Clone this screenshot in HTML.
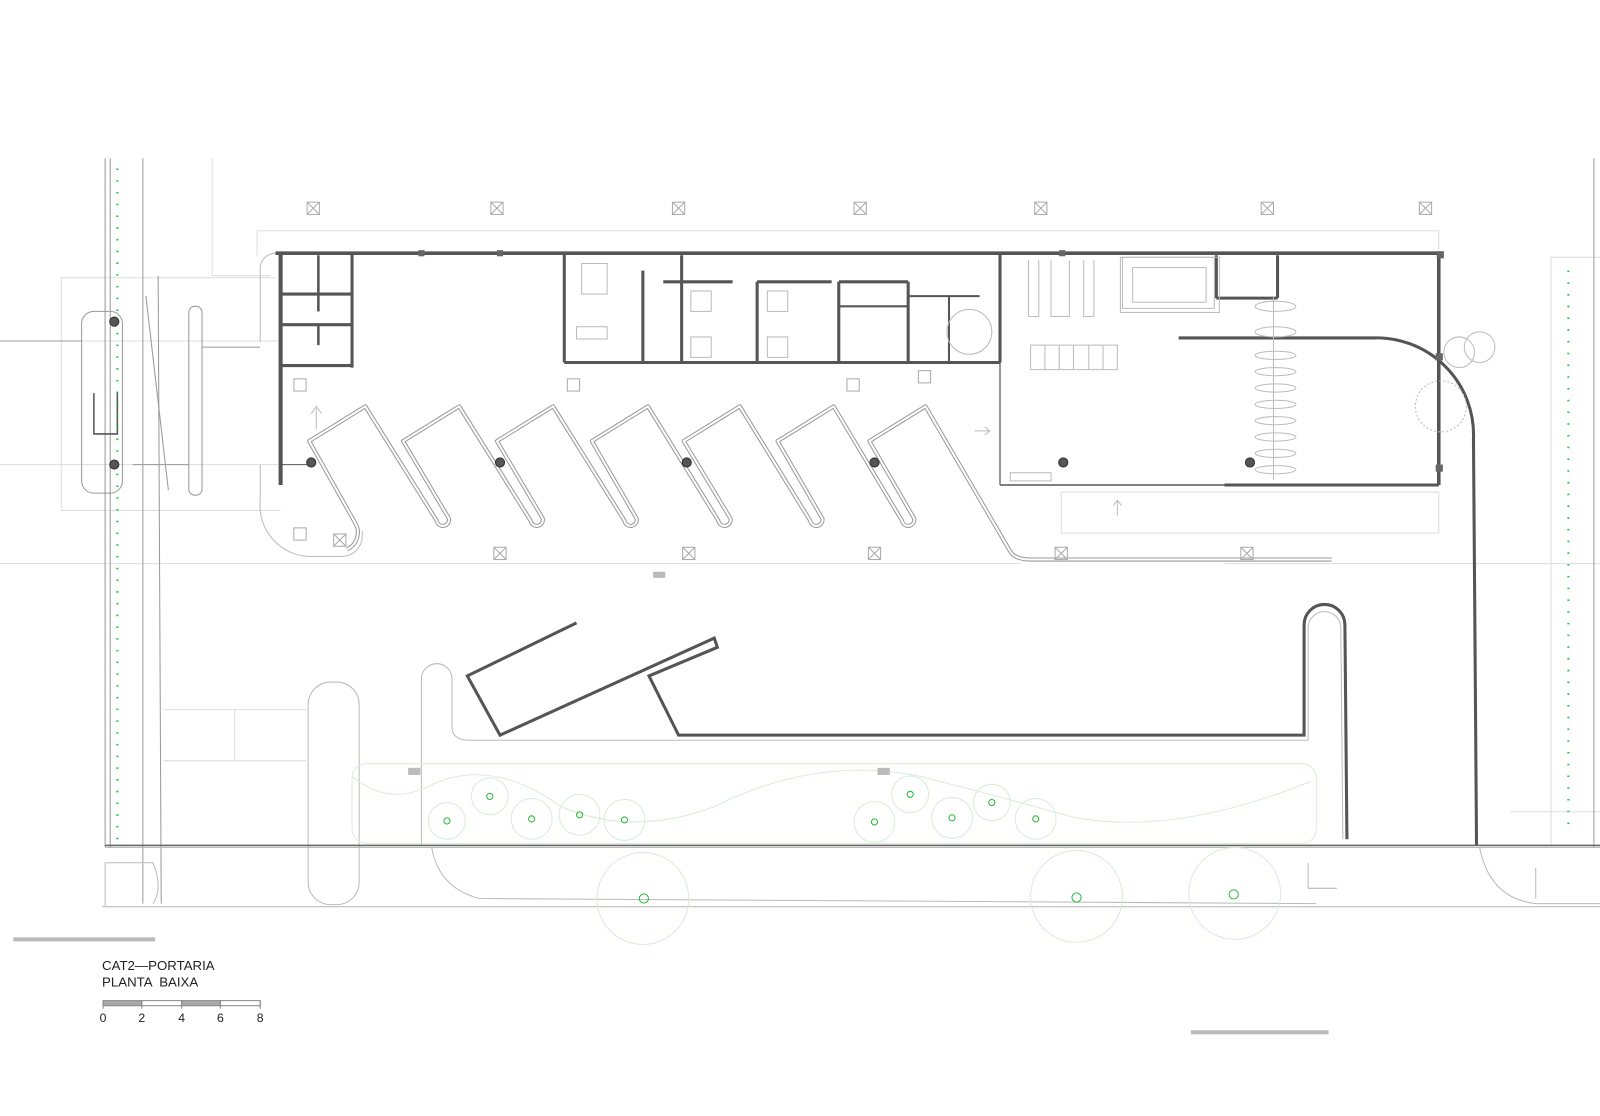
<!DOCTYPE html>
<html><head><meta charset="utf-8"><style>
html,body{margin:0;padding:0;background:#fff;}
svg{display:block;}
text{font-family:"Liberation Sans",sans-serif;fill:#222;}
</style></head><body>
<svg width="1600" height="1116" viewBox="0 0 1568 1093" preserveAspectRatio="none" xmlns="http://www.w3.org/2000/svg">
<defs>
<g id="m"><rect x="-6" y="-6" width="12" height="12"/><path d="M-6 -6 L6 6 M6 -6 L-6 6"/></g>
<path id="saw" d="M340 538 A18 18 0 0 0 348 512 L303 432 L358 398 L428 510 A6 6 0 0 0 440 508 L395 432 L450 398 L520 510 A6 6 0 0 0 532 508 L487 432 L542 398 L612 510 A6 6 0 0 0 624 508 L580 432 L635 398 L704 510 A6 6 0 0 0 716 508 L670 432 L725 398 L794 510 A6 6 0 0 0 806 508 L762 432 L817 398 L884 510 A6 6 0 0 0 896 508 L852 432 L907 398 L990 540 Q995 548 1010 548 L1305 548"/>
</defs>
<rect width="1568" height="1093" fill="#fff"/>
<g stroke="#ddd" stroke-width="1" fill="none">
<line x1="0" y1="334" x2="275" y2="334"/><line x1="0" y1="455" x2="275" y2="455"/>
<line x1="60" y1="272" x2="270" y2="272"/><line x1="60" y1="272" x2="60" y2="500"/>
<line x1="60" y1="500" x2="275" y2="500"/>
<line x1="208" y1="155" x2="208" y2="270"/><line x1="208" y1="270" x2="265" y2="270"/>
<line x1="252" y1="226" x2="1410" y2="226"/><line x1="252" y1="226" x2="252" y2="250"/>
<line x1="0" y1="552" x2="1000" y2="552"/><line x1="1200" y1="552" x2="1568" y2="552"/>
<line x1="1040" y1="482" x2="1410" y2="482"/><line x1="1040" y1="482" x2="1040" y2="522"/><line x1="1040" y1="522" x2="1410" y2="522"/><line x1="1410" y1="482" x2="1410" y2="522"/>
<line x1="1520" y1="252" x2="1568" y2="252"/><line x1="1520" y1="252" x2="1520" y2="828"/>
<line x1="1410" y1="226" x2="1410" y2="245"/>
<line x1="160" y1="695" x2="300" y2="695"/><line x1="160" y1="745" x2="300" y2="745"/>
<line x1="230" y1="695" x2="230" y2="745"/>
<line x1="1480" y1="795" x2="1568" y2="795"/>
</g>
<g stroke="#999" stroke-width="1" fill="none">
<line x1="103" y1="155" x2="103" y2="830"/><line x1="108" y1="155" x2="108" y2="830"/>
<line x1="140" y1="155" x2="140" y2="885"/><line x1="155" y1="270" x2="158" y2="885"/>
<line x1="143" y1="290" x2="165" y2="480"/>
<line x1="1562" y1="155" x2="1562" y2="830"/>
<rect x="80" y="305" width="40" height="178" rx="12"/>
<rect x="185" y="300" width="13" height="185" rx="6"/>
<line x1="0" y1="334" x2="80" y2="334"/>
<line x1="198" y1="340" x2="255" y2="340"/>
<line x1="130" y1="455" x2="185" y2="455"/>
<path d="M92 385 L92 425 L115 425 L115 385" stroke="#555" stroke-width="1.5"/>
</g>
<g stroke="#1c3" stroke-width="2" stroke-dasharray="1.5 10">
<line x1="115" y1="165" x2="115" y2="828"/>
<line x1="1537" y1="265" x2="1537" y2="815"/>
</g>
<g stroke="#555" fill="none">
<line x1="270" y1="248" x2="1413" y2="248" stroke-width="3.5"/>
<line x1="275" y1="248" x2="275" y2="475" stroke-width="4"/>
<line x1="345" y1="248" x2="345" y2="360" stroke-width="3"/>
<line x1="275" y1="288" x2="345" y2="288" stroke-width="3"/>
<line x1="275" y1="318" x2="345" y2="318" stroke-width="3"/>
<line x1="275" y1="358" x2="345" y2="358" stroke-width="3"/>
<line x1="312" y1="250" x2="312" y2="305" stroke-width="2.5"/>
<line x1="312" y1="318" x2="312" y2="338" stroke-width="2.5"/>
<line x1="275" y1="455" x2="305" y2="455" stroke-width="1"/>
<line x1="553" y1="248" x2="553" y2="355" stroke-width="3"/>
<line x1="553" y1="355" x2="980" y2="355" stroke-width="3"/>
<line x1="630" y1="265" x2="630" y2="355" stroke-width="3"/>
<line x1="668" y1="250" x2="668" y2="355" stroke-width="3"/>
<line x1="650" y1="276" x2="718" y2="276" stroke-width="3"/>
<line x1="742" y1="276" x2="815" y2="276" stroke-width="3"/>
<line x1="742" y1="276" x2="742" y2="355" stroke-width="3"/>
<line x1="822" y1="276" x2="822" y2="355" stroke-width="3"/>
<line x1="822" y1="276" x2="890" y2="276" stroke-width="3"/>
<line x1="890" y1="276" x2="890" y2="355" stroke-width="3"/>
<line x1="822" y1="300" x2="890" y2="300" stroke-width="2"/>
<line x1="890" y1="290" x2="960" y2="290" stroke-width="2"/>
<line x1="930" y1="290" x2="930" y2="355" stroke-width="2"/>
<line x1="980" y1="248" x2="980" y2="355" stroke-width="3"/>
<line x1="980" y1="355" x2="980" y2="475" stroke-width="1.2"/>
<line x1="980" y1="475" x2="1200" y2="475" stroke-width="1.5"/>
<line x1="1200" y1="475" x2="1410" y2="475" stroke-width="3"/>
<line x1="1410" y1="248" x2="1410" y2="475" stroke-width="3.5"/>
<line x1="1192" y1="250" x2="1192" y2="292" stroke-width="3"/>
<line x1="1192" y1="292" x2="1252" y2="292" stroke-width="3"/>
<line x1="1252" y1="250" x2="1252" y2="292" stroke-width="3"/>
<path d="M1155 331 L1345 331 A95 95 0 0 1 1444 430 L1447 828" stroke-width="3"/>
<path d="M565 610 L458 662 L490 720 L700 625 L703 634 L636 662 L665 720 L1278 720 L1278 612 A20 20 0 0 1 1318 612 L1320 822" stroke-width="3"/>
</g>
<g stroke="#bbb" fill="none" stroke-width="1">
<rect x="1100" y="252" width="90" height="50"/><rect x="1110" y="262" width="72" height="34"/>
<rect x="1098" y="252" width="97" height="54"/>
<path d="M1010 338 H1095 V362 H1010 Z M1024 338 V362 M1038 338 V362 M1052 338 V362 M1067 338 V362 M1081 338 V362"/>
<path d="M1030 255 V310 H1048 V255 M1008 255 V310 H1018 V255 M1062 255 V310 H1072 V255"/>
<line x1="1248" y1="290" x2="1248" y2="470"/>
<ellipse cx="1250" cy="300" rx="20" ry="5"/><ellipse cx="1250" cy="325" rx="20" ry="5"/>
<ellipse cx="1250" cy="348" rx="20" ry="4"/><ellipse cx="1250" cy="364" rx="20" ry="4"/>
<ellipse cx="1250" cy="380" rx="20" ry="4"/><ellipse cx="1250" cy="396" rx="20" ry="4"/>
<ellipse cx="1250" cy="412" rx="20" ry="4"/><ellipse cx="1250" cy="428" rx="20" ry="4"/>
<ellipse cx="1250" cy="444" rx="20" ry="4"/><ellipse cx="1250" cy="460" rx="20" ry="4"/>
<circle cx="950" cy="325" r="22"/><circle cx="1412" cy="398" r="25" stroke-dasharray="2 2"/>
<circle cx="1430" cy="345" r="15"/><circle cx="1450" cy="340" r="15"/>
<rect x="570" y="258" width="25" height="30"/><rect x="565" y="320" width="30" height="12"/>
<rect x="677" y="285" width="20" height="20"/><rect x="752" y="285" width="20" height="20"/>
<rect x="677" y="330" width="20" height="20"/><rect x="752" y="330" width="20" height="20"/>
<rect x="990" y="463" width="40" height="8"/>
<path d="M310 400 V420 M305 405 L310 398 L315 405"/>
<path d="M955 422 H970 M965 418 L970 422 L965 426"/>
<path d="M1095 505 V490 M1091 495 L1095 490 L1099 495"/>
<path d="M270 248 A15 15 0 0 0 255 263 L255 335"/>
<path d="M255 455 L255 490 A50 50 0 0 0 305 545 L335 545 A20 20 0 0 0 355 525 L355 520"/>
</g>
<use href="#saw" fill="none" stroke="#999" stroke-width="4" stroke-linejoin="round"/>
<use href="#saw" fill="none" stroke="#fff" stroke-width="2" stroke-linejoin="round"/>
<g fill="none" stroke="#bbb" stroke-width="1">
<path d="M413 828 L413 665 A15 15 0 0 1 443 665 L443 712 Q443 725 460 725 L1282 725 L1282 615 A16 16 0 0 1 1314 615 L1316 822"/>
<rect x="302" y="668" width="50" height="218" rx="22"/>
<path d="M423 830 Q430 870 470 880 L1290 885 M1450 830 Q1460 880 1505 885 L1568 885"/>
<line x1="100" y1="888" x2="1568" y2="888"/>
<path d="M103 845 L150 845 Q160 870 150 885 M103 888 L103 845"/>
<path d="M1505 850 L1505 880 M1282 845 L1282 870 L1310 870"/>
</g>
<line x1="103" y1="828" x2="1568" y2="828" stroke="#666" stroke-width="1.5"/>
<line x1="103" y1="830" x2="1568" y2="830" stroke="#bbb" stroke-width="1"/>
<g fill="none" stroke="#d8ecd8" stroke-width="1">
<rect x="345" y="748" width="945" height="78" rx="14"/>
<path d="M345 760 Q380 790 420 770 Q480 740 550 790 Q620 820 700 790 Q800 740 900 760 Q980 780 1050 800 Q1150 820 1285 765"/>
<circle cx="438" cy="804" r="18"/><circle cx="480" cy="780" r="18"/><circle cx="521" cy="802" r="20"/>
<circle cx="568" cy="798" r="20"/><circle cx="612" cy="803" r="20"/><circle cx="857" cy="805" r="20"/>
<circle cx="892" cy="778" r="18"/><circle cx="933" cy="801" r="20"/><circle cx="972" cy="786" r="18"/>
<circle cx="1015" cy="802" r="20"/>
<circle cx="630" cy="880" r="45"/><circle cx="1055" cy="878" r="45"/><circle cx="1210" cy="875" r="45"/>
</g>
<g fill="none" stroke="#2b3" stroke-width="1">
<circle cx="438" cy="804" r="3"/><circle cx="480" cy="780" r="3"/><circle cx="521" cy="802" r="3"/>
<circle cx="568" cy="798" r="3"/><circle cx="612" cy="803" r="3"/><circle cx="857" cy="805" r="3"/>
<circle cx="892" cy="778" r="3"/><circle cx="933" cy="801" r="3"/><circle cx="972" cy="786" r="3"/>
<circle cx="1015" cy="802" r="3"/>
<circle cx="631" cy="880" r="4.5"/><circle cx="1055" cy="879" r="4.5"/><circle cx="1209" cy="876" r="4.5"/>
</g>
<g fill="#bbb"><rect x="400" y="752" width="12" height="7"/><rect x="860" y="752" width="12" height="7"/><rect x="640" y="560" width="12" height="6"/></g>
<g fill="#555" stroke="#333" stroke-width="1">
<circle cx="112" cy="315" r="4.5"/><circle cx="112" cy="455" r="4.5"/>
<circle cx="305" cy="453" r="4.5"/><circle cx="490" cy="453" r="4.5"/>
<circle cx="673" cy="453" r="4.5"/><circle cx="857" cy="453" r="4.5"/>
<circle cx="1042" cy="453" r="4.5"/><circle cx="1225" cy="453" r="4.5"/>
</g>
<g fill="#666">
<rect x="487" y="245" width="6" height="6"/><rect x="410" y="245" width="6" height="6"/>
<rect x="1038" y="245" width="6" height="6"/><rect x="1408" y="246" width="7" height="7"/>
<rect x="1407" y="346" width="7" height="7"/><rect x="1407" y="455" width="7" height="7"/>
</g>
<g fill="none" stroke="#aaa" stroke-width="1">
<use href="#m" x="307" y="204"/><use href="#m" x="487" y="204"/><use href="#m" x="665" y="204"/>
<use href="#m" x="843" y="204"/><use href="#m" x="1020" y="204"/><use href="#m" x="1242" y="204"/>
<use href="#m" x="1397" y="204"/><use href="#m" x="490" y="542"/><use href="#m" x="675" y="542"/>
<use href="#m" x="857" y="542"/><use href="#m" x="1040" y="542"/><use href="#m" x="1222" y="542"/>
<use href="#m" x="333" y="529"/>
<rect x="288" y="371" width="12" height="12"/><rect x="556" y="371" width="12" height="12"/>
<rect x="830" y="371" width="12" height="12"/><rect x="900" y="363" width="12" height="12"/>
<rect x="288" y="517" width="12" height="12"/>
</g>
<rect x="13" y="918" width="139" height="4" fill="#bbb"/>
<rect x="1167" y="1009" width="135" height="4" fill="#bbb"/>
<text x="100" y="950" font-size="13">CAT2—PORTARIA</text>
<text x="100" y="966" font-size="13" xml:space="preserve">PLANTA  BAIXA</text>
<g stroke="#888" stroke-width="1">
<rect x="101" y="980" width="38" height="5" fill="#aaa"/><rect x="139" y="980" width="39" height="5" fill="#fff"/>
<rect x="178" y="980" width="38" height="5" fill="#aaa"/><rect x="216" y="980" width="39" height="5" fill="#fff"/>
<path d="M101 980 V988 M139 980 V988 M178 980 V988 M216 980 V988 M255 980 V988"/>
</g>
<g font-size="12" text-anchor="middle">
<text x="101" y="1001">0</text><text x="139" y="1001">2</text><text x="178" y="1001">4</text><text x="216" y="1001">6</text><text x="255" y="1001">8</text>
</g>
</svg>
</body></html>
